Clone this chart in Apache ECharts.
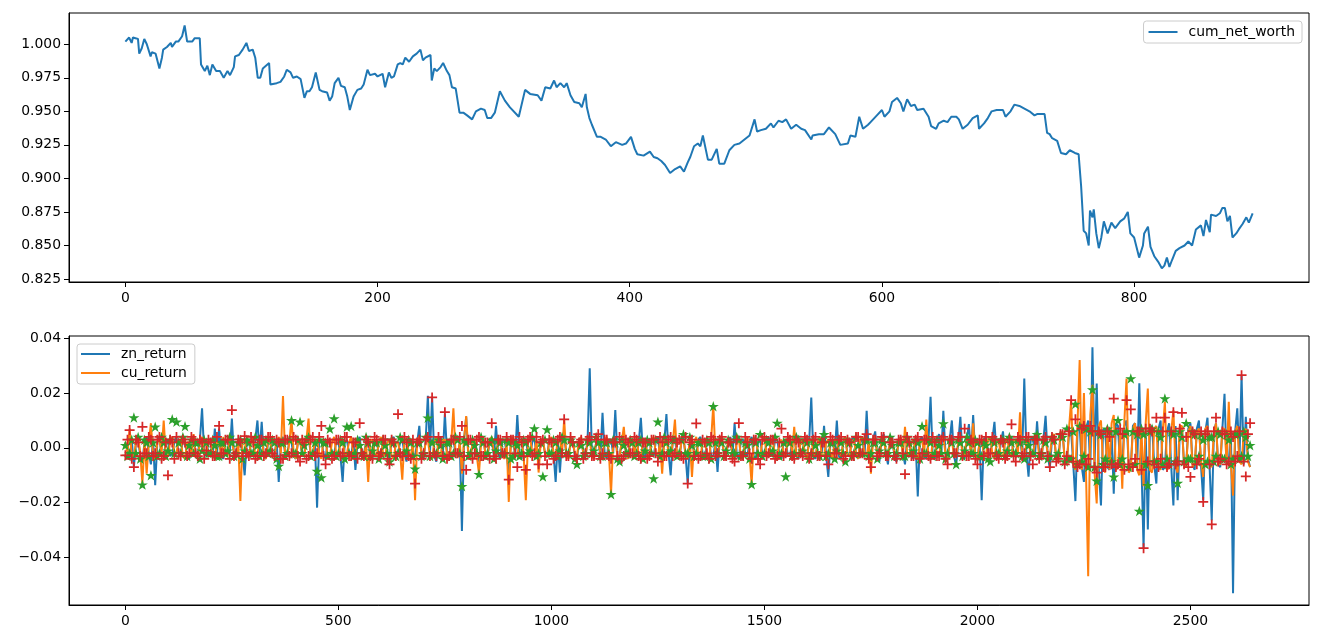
<!DOCTYPE html>
<html>
<head>
<meta charset="utf-8">
<script src="https://cdn.jsdelivr.net/npm/echarts@6/dist/echarts.min.js"></script>
<style>
  html, body { margin: 0; padding: 0; background: #fff; }
  #chart { width: 1321px; height: 634px; }
</style>
</head>
<body>
<div id="chart"></div>
<script>
// top panel: cumulative net worth, [index, value]
var cumNetWorth = [
  [0,1.002],[1,1.001],[3,1.005],[4,1.003],[5,1.001],[6,1.005],[8,1.0045],[10,1.004],[11,0.993],[13,0.997],
  [15,1.004],[17,1.000],[20,0.991],[21,0.994],[24,0.993],[27,0.982],[29,0.990],[30,0.996],[33,0.998],[36,1.001],
  [37,0.998],[40,1.002],[42,1.002],[45,1.006],[46,1.007],[47,1.014],[48,1.008],[49,1.002],[53,1.002],[55,1.0045],
  [59,1.0045],[60,0.985],[63,0.980],[65,0.984],[67,0.977],[69,0.985],[72,0.980],[75,0.980],[78,0.975],[81,0.980],
  [83,0.977],[86,0.983],[87,0.991],[90,0.992],[93,0.996],[96,1.001],[98,0.995],[101,0.996],[103,0.990],[105,0.975],
  [107,0.975],[109,0.982],[114,0.986],[115,0.970],[120,0.971],[123,0.972],[126,0.976],[128,0.981],[131,0.979],[133,0.975],
  [136,0.976],[139,0.974],[140,0.973],[142,0.960],[144,0.965],[146,0.965],[148,0.968],[151,0.979],[154,0.966],[156,0.965],
  [160,0.964],[162,0.958],[164,0.961],[166,0.971],[169,0.975],[171,0.969],[174,0.968],[176,0.961],[178,0.951],[181,0.961],
  [184,0.966],[187,0.967],[189,0.970],[192,0.981],[194,0.977],[198,0.978],[200,0.976],[204,0.978],[206,0.968],[209,0.979],
  [211,0.975],[213,0.976],[216,0.985],[218,0.986],[220,0.985],[222,0.990],[225,0.987],[228,0.991],[231,0.993],[234,0.996],
  [236,0.988],[238,0.990],[242,0.992],[243,0.973],[245,0.982],[247,0.980],[250,0.983],[252,0.986],[255,0.980],[257,0.977],
  [259,0.968],[262,0.967],[265,0.949],[268,0.949],[271,0.947],[275,0.944],[278,0.950],[282,0.952],[285,0.951],[287,0.945],
  [290,0.945],[293,0.949],[297,0.965],[301,0.958],[305,0.953],[312,0.946],[317,0.966],[321,0.963],[327,0.962],[330,0.958],
  [333,0.968],[337,0.967],[340,0.973],[342,0.968],[345,0.971],[348,0.968],[350,0.971],[353,0.962],[356,0.957],[360,0.956],
  [362,0.953],[365,0.963],[366,0.953],[368,0.945],[370,0.940],[374,0.931],[377,0.931],[381,0.929],[385,0.924],[389,0.927],
  [394,0.925],[397,0.926],[401,0.931],[404,0.922],[406,0.918],[411,0.917],[416,0.920],[419,0.916],[422,0.915],[425,0.913],
  [428,0.910],[432,0.904],[436,0.907],[440,0.909],[443,0.905],[446,0.912],[448,0.916],[451,0.924],[454,0.926],[456,0.924],
  [458,0.932],[462,0.914],[465,0.914],[469,0.922],[471,0.911],[475,0.911],[479,0.921],[483,0.925],[487,0.926],[491,0.929],
  [495,0.932],[499,0.944],[501,0.935],[504,0.936],[508,0.937],[512,0.941],[514,0.938],[518,0.943],[521,0.942],[524,0.944],
  [528,0.937],[532,0.940],[536,0.937],[539,0.936],[544,0.929],[545,0.932],[550,0.933],[554,0.933],[558,0.938],[563,0.933],
  [567,0.925],[573,0.926],[575,0.932],[579,0.931],[582,0.946],[585,0.937],[589,0.940],[591,0.942],[596,0.947],[600,0.951],
  [602,0.946],[606,0.950],[608,0.957],[612,0.960],[615,0.956],[617,0.950],[620,0.959],[623,0.954],[626,0.955],[628,0.951],
  [633,0.952],[637,0.946],[639,0.939],[643,0.937],[645,0.941],[649,0.943],[652,0.942],[655,0.946],[659,0.946],[661,0.944],
  [664,0.937],[668,0.940],[672,0.945],[676,0.947],[677,0.937],[681,0.941],[684,0.945],[687,0.950],[691,0.951],[696,0.951],
  [698,0.946],[702,0.950],[705,0.955],[709,0.954],[713,0.952],[717,0.950],[721,0.947],[723,0.948],[729,0.948],[731,0.934],
  [733,0.933],[735,0.930],[739,0.928],[742,0.919],[746,0.918],[749,0.921],[753,0.919],[756,0.918],[758,0.894],[760,0.861],
  [762,0.859],[764,0.850],[765,0.876],[767,0.871],[768,0.877],[770,0.859],[772,0.848],[774,0.856],[776,0.868],[779,0.859],
  [782,0.867],[785,0.863],[789,0.868],[792,0.870],[795,0.875],[797,0.859],[800,0.856],[804,0.841],[807,0.850],[808,0.859],
  [811,0.864],[813,0.849],[816,0.842],[819,0.838],[822,0.833],[824,0.835],[826,0.841],[828,0.834],[830,0.839],[833,0.846],
  [836,0.848],[840,0.850],[843,0.853],[846,0.850],[849,0.862],[853,0.865],[855,0.857],[857,0.869],[860,0.860],[861,0.873],
  [865,0.872],[868,0.874],[870,0.878],[872,0.878],[874,0.868],[876,0.872],[878,0.856],[881,0.859],[883,0.862],[886,0.866],
  [889,0.871],[891,0.867],[894,0.874]
];

// bottom panel: one value every STEP rows, starting at row 0
var STEP = 5;
var znReturn = [
  0.002,-0.001,-0.004,0.003,-0.007,0.002,0.003,-0.003,-0.005,0.002,0.004,-0.002,-0.006,0.003,-0.0136,0.002,0.004,-0.003,-0.003,0.002,
  0.003,-0.003,-0.002,0.002,0.004,-0.002,-0.003,0.003,0.002,-0.003,-0.004,0.002,0.003,-0.002,-0.002,0.003,0.0144,-0.002,-0.003,0.002,
  0.002,-0.003,0.007,-0.002,0.007,-0.003,-0.004,0.002,0.003,-0.002,0.0107,-0.003,-0.003,0.003,0.002,-0.002,-0.010,0.002,0.003,-0.003,
  -0.002,0.003,0.010,-0.002,0.0095,-0.003,-0.004,0.002,0.003,-0.002,-0.003,0.003,-0.0124,0.002,0.004,-0.002,-0.003,0.003,0.002,-0.003,
  -0.004,0.002,0.003,-0.003,-0.002,0.003,0.004,-0.002,-0.003,0.002,-0.0218,0.003,0.003,-0.002,-0.004,0.003,0.003,-0.003,-0.002,0.002,
  0.002,-0.003,-0.0124,0.002,0.003,-0.002,-0.003,0.003,-0.008,0.002,0.004,-0.003,-0.002,0.002,0.003,-0.003,-0.004,0.002,0.002,-0.002,
  -0.003,0.002,0.003,-0.002,-0.004,0.003,0.004,-0.003,-0.002,0.002,0.003,-0.002,-0.005,0.003,0.003,-0.002,-0.003,0.002,0.008,-0.003,
  -0.004,0.003,0.019,-0.002,0.0186,-0.003,-0.005,0.002,0.004,-0.003,0.0125,-0.002,-0.004,0.003,0.003,-0.002,-0.003,0.002,-0.0303,0.003,
  0.0113,-0.003,-0.004,0.002,0.003,-0.002,-0.005,0.003,0.004,-0.002,-0.003,0.002,0.003,-0.003,0.008,-0.002,-0.004,0.003,0.003,-0.002,
  -0.0094,0.002,0.003,-0.003,0.012,-0.002,-0.004,0.003,0.003,-0.002,-0.003,0.002,0.004,-0.003,-0.004,0.002,0.003,-0.002,-0.003,0.003,
  0.003,-0.002,-0.0124,0.002,-0.009,0.003,0.004,-0.002,-0.003,0.002,0.003,-0.003,-0.004,0.002,0.003,-0.002,-0.003,0.003,0.029,-0.002,
  -0.004,0.002,0.003,-0.003,0.0128,-0.002,-0.004,0.003,0.003,-0.002,0.0138,-0.003,-0.003,0.002,0.004,-0.002,-0.004,0.003,0.003,-0.002,
  -0.003,0.002,0.011,-0.002,-0.004,0.003,0.003,-0.002,-0.003,0.002,0.004,-0.003,-0.004,0.002,0.0123,-0.002,-0.010,0.003,0.003,-0.002,
  -0.004,0.002,0.004,-0.003,-0.013,0.002,0.003,-0.002,-0.003,0.003,0.004,-0.002,-0.004,0.002,0.003,-0.003,-0.003,0.002,-0.0088,0.003,
  0.003,-0.002,-0.003,0.002,0.004,-0.003,0.009,-0.002,-0.004,0.003,0.003,-0.002,-0.003,0.002,0.004,-0.003,-0.004,0.002,0.003,-0.002,
  -0.003,0.002,0.004,-0.002,-0.003,0.003,0.003,-0.002,-0.004,0.002,0.003,-0.003,-0.003,0.002,0.005,-0.002,-0.004,0.003,0.003,-0.002,
  -0.003,0.002,0.0184,-0.003,-0.004,0.002,0.003,-0.002,0.008,-0.003,-0.0106,0.002,0.003,-0.002,0.010,-0.003,-0.004,0.002,0.003,-0.002,
  -0.003,0.003,0.004,-0.002,-0.004,0.002,0.003,-0.003,0.0135,-0.002,-0.004,0.003,0.006,-0.003,-0.005,0.003,0.005,-0.002,-0.006,0.003,
  0.004,-0.003,-0.005,0.003,0.004,-0.002,-0.006,0.003,0.003,-0.003,-0.004,0.002,-0.0177,0.003,0.004,-0.003,-0.004,0.002,0.0186,-0.003,
  -0.004,0.003,0.005,-0.003,0.0135,-0.002,-0.004,0.003,0.010,-0.003,-0.0065,0.002,0.0113,-0.003,-0.004,0.003,0.0087,-0.002,0.012,-0.003,
  -0.004,0.002,-0.0191,0.003,0.004,-0.002,-0.003,0.003,0.0095,-0.003,-0.004,0.002,0.006,-0.003,-0.003,0.002,0.004,-0.003,-0.003,0.003,
  0.004,-0.003,0.0253,-0.002,-0.0105,0.003,0.004,-0.003,0.0097,-0.002,-0.004,0.003,0.0117,-0.003,-0.0075,0.003,0.004,-0.004,-0.004,0.004,
  0.005,-0.004,-0.005,0.005,0.006,-0.006,-0.0194,0.006,0.008,-0.007,-0.0124,0.007,0.010,-0.008,0.0367,-0.006,0.0235,-0.008,-0.021,0.007,
  0.006,-0.007,-0.008,0.006,-0.0167,0.009,0.008,-0.007,-0.006,0.008,0.010,-0.006,-0.007,0.008,0.009,-0.007,0.0236,-0.006,-0.0366,0.006,
  -0.0298,0.007,0.008,-0.006,-0.013,0.007,0.010,-0.008,-0.007,0.006,0.009,-0.007,-0.021,0.008,-0.0191,0.006,0.008,-0.006,-0.006,0.007,
  0.009,-0.006,-0.008,0.007,0.010,-0.007,-0.0191,0.006,0.011,-0.007,-0.0264,0.006,0.009,-0.006,-0.007,0.007,0.0197,-0.006,-0.005,0.006,
  -0.053,0.006,0.0144,-0.005,0.0265,-0.006,0.0113,-0.004,-0.007
];
var cuReturn = [
  0.002,-0.002,0.007,-0.003,-0.003,0.002,0.004,-0.002,-0.013,0.003,-0.0094,0.002,0.009,-0.003,-0.004,0.002,0.003,-0.002,0.010,-0.003,
  -0.003,0.002,0.004,-0.002,-0.002,0.003,0.003,-0.003,-0.004,0.002,0.002,-0.002,0.005,-0.003,-0.003,0.002,0.004,-0.002,-0.002,0.003,
  0.003,-0.002,-0.004,0.002,0.002,-0.003,0.004,-0.002,-0.003,0.003,0.003,-0.002,-0.002,0.002,-0.0194,0.003,0.003,-0.002,-0.003,0.002,
  0.004,-0.003,-0.002,0.002,0.003,-0.002,-0.004,0.003,0.002,-0.003,-0.003,0.002,0.004,-0.002,0.0189,-0.003,-0.003,0.002,0.0107,-0.002,
  -0.004,0.002,0.003,-0.002,-0.003,0.003,0.0107,-0.003,-0.002,0.002,0.003,-0.002,-0.004,0.003,0.003,-0.003,-0.003,0.002,0.004,-0.002,
  -0.003,0.002,0.003,-0.003,-0.002,0.002,0.004,-0.002,-0.003,0.003,0.002,-0.002,-0.004,0.002,-0.0124,0.003,0.003,-0.002,-0.003,0.002,
  0.004,-0.002,-0.003,0.002,0.003,-0.003,-0.004,0.002,0.002,-0.002,-0.0116,0.003,0.003,-0.002,-0.003,0.002,-0.0191,0.003,0.004,-0.002,
  -0.003,0.002,0.003,-0.003,-0.004,0.002,0.004,-0.002,-0.003,0.003,0.003,-0.002,-0.004,0.002,0.0144,-0.002,-0.003,0.002,-0.0094,0.003,
  0.0116,-0.002,-0.004,0.002,0.003,-0.003,-0.0094,0.002,0.004,-0.002,-0.003,0.003,0.004,-0.002,-0.003,0.002,0.003,-0.003,-0.004,0.002,
  -0.0197,0.003,0.004,-0.002,-0.003,0.002,0.003,-0.003,-0.0191,0.002,0.004,-0.002,-0.003,0.003,-0.009,0.002,0.003,-0.002,-0.003,0.002,
  0.004,-0.002,-0.003,0.003,0.003,-0.002,0.0104,-0.003,-0.004,0.002,0.003,-0.002,-0.003,0.003,0.004,-0.002,-0.003,0.002,0.003,-0.003,
  -0.004,0.002,0.003,-0.002,-0.003,0.003,0.004,-0.002,-0.0167,0.002,0.003,-0.003,-0.003,0.002,0.0077,-0.002,-0.004,0.003,0.003,-0.002,
  0.004,-0.003,-0.003,0.002,0.003,-0.002,-0.004,0.003,0.004,-0.002,-0.003,0.002,-0.0094,0.003,0.004,-0.002,-0.003,0.002,0.0103,-0.003,
  -0.004,0.002,0.003,-0.002,-0.004,0.003,-0.0106,0.002,0.004,-0.003,-0.003,0.002,0.003,-0.002,-0.004,0.003,0.0156,-0.002,-0.003,0.002,
  0.004,-0.002,-0.003,0.003,0.003,-0.002,-0.004,0.002,0.003,-0.003,-0.003,0.002,0.004,-0.002,-0.0133,0.003,0.003,-0.002,-0.003,0.002,
  0.004,-0.002,-0.003,0.002,0.003,-0.003,-0.004,0.002,0.003,-0.002,-0.003,0.003,0.004,-0.002,0.0077,-0.003,-0.003,0.002,0.003,-0.002,
  -0.004,0.003,0.003,-0.002,-0.003,0.002,0.004,-0.003,-0.003,0.002,0.003,-0.002,-0.004,0.003,0.003,-0.002,-0.003,0.002,0.004,-0.003,
  -0.003,0.002,0.003,-0.002,-0.004,0.003,0.004,-0.002,-0.003,0.002,-0.0094,0.003,0.004,-0.003,-0.003,0.002,0.004,-0.002,-0.004,0.003,
  0.003,-0.002,-0.003,0.002,0.004,-0.003,0.0077,-0.002,-0.003,0.002,0.003,-0.003,-0.004,0.002,0.003,-0.002,0.0103,-0.003,-0.004,0.002,
  0.003,-0.002,-0.003,0.003,0.004,-0.002,-0.004,0.002,0.003,-0.003,-0.003,0.002,0.004,-0.002,-0.003,0.003,0.003,-0.002,0.009,-0.003,
  -0.004,0.002,0.003,-0.002,-0.003,0.003,0.004,-0.002,-0.004,0.002,0.003,-0.003,-0.003,0.002,0.004,-0.002,-0.003,0.003,0.003,-0.002,
  0.013,-0.003,-0.004,0.002,0.003,-0.003,-0.003,0.002,0.004,-0.003,-0.004,0.003,0.003,-0.002,-0.003,0.004,0.005,-0.004,-0.005,0.005,
  0.006,-0.005,-0.006,0.007,0.0174,-0.006,-0.008,0.009,0.032,-0.008,0.020,-0.010,-0.0468,0.012,0.023,-0.009,-0.0203,0.008,0.010,-0.007,
  -0.009,0.007,-0.008,0.009,0.012,-0.008,-0.007,0.006,-0.0149,0.010,0.0253,-0.009,-0.008,0.007,0.009,-0.008,-0.010,0.007,-0.014,0.009,
  0.0216,-0.008,-0.009,0.007,0.008,-0.007,-0.008,0.006,0.0168,-0.008,-0.007,0.006,0.0138,-0.007,-0.009,0.008,0.008,-0.006,-0.007,0.006,
  0.008,-0.007,-0.006,0.006,0.007,-0.005,-0.0106,0.007,0.008,-0.006,-0.007,0.005,0.009,-0.006,-0.006,0.007,0.007,-0.005,0.0168,-0.006,
  -0.0174,0.006,0.008,-0.005,-0.006,0.005,0.007,-0.005,-0.007
];
var starReturn = [
  0.001,-0.003,-0.002,0.003,0.0111,-0.002,0.004,-0.004,-0.0134,0.003,0.002,-0.003,-0.010,0.002,0.0077,-0.003,-0.002,0.004,0.002,-0.003,
  -0.001,0.003,0.0104,-0.002,0.0095,0.002,-0.002,0.004,0.0079,-0.003,0.001,0.003,-0.002,0.002,0.002,-0.004,-0.001,0.003,0.002,-0.002,
  -0.002,0.003,0.001,-0.003,-0.003,0.002,0.002,-0.002,-0.001,0.004,0.002,-0.003,-0.002,0.002,0.003,-0.004,-0.001,0.003,0.002,-0.002,
  -0.002,0.004,0.001,-0.003,-0.002,0.002,0.003,-0.002,-0.001,0.003,0.002,-0.004,-0.0066,0.002,0.002,-0.003,-0.002,0.003,0.0101,-0.002,
  -0.002,0.003,0.0095,-0.002,0.001,0.003,0.004,-0.003,-0.002,0.002,-0.0084,0.003,-0.0108,0.002,0.002,-0.003,0.007,-0.002,0.0107,-0.003,
  -0.002,0.003,0.002,-0.004,0.0077,-0.002,0.008,-0.003,-0.002,0.003,0.001,-0.002,-0.003,0.004,0.002,-0.003,-0.001,0.002,0.002,-0.004,
  -0.002,0.003,0.001,-0.002,-0.005,0.003,0.002,-0.003,-0.002,0.004,0.003,-0.002,-0.001,0.003,0.002,-0.003,-0.0076,0.002,0.002,-0.003,
  -0.002,0.004,0.011,-0.003,0.002,-0.002,-0.002,0.003,0.001,-0.004,-0.003,0.002,0.002,-0.003,-0.002,0.004,0.003,-0.002,-0.014,0.003,
  0.002,-0.003,-0.002,0.003,0.001,-0.002,-0.0096,0.004,0.002,-0.003,-0.002,0.002,0.003,-0.004,-0.001,0.003,0.002,-0.002,-0.002,0.003,
  0.002,-0.004,-0.003,0.002,0.001,-0.003,-0.002,0.003,0.002,-0.002,-0.001,0.004,0.0071,-0.003,-0.002,0.002,-0.0104,0.003,0.0067,-0.002,
  -0.002,0.003,0.002,-0.003,-0.001,0.004,0.003,-0.002,-0.002,0.003,0.002,-0.004,-0.006,0.002,0.001,-0.003,-0.002,0.003,0.002,-0.002,
  -0.001,0.004,0.002,-0.003,-0.003,0.002,0.002,-0.002,-0.0169,0.003,0.002,-0.004,-0.005,0.003,0.001,-0.002,-0.002,0.003,0.002,-0.003,
  -0.002,0.002,0.003,-0.004,-0.001,0.003,0.002,-0.002,-0.0112,0.003,0.0095,-0.003,-0.002,0.004,0.002,-0.002,-0.001,0.003,0.003,-0.003,
  -0.002,0.003,0.005,-0.002,-0.002,0.004,0.001,-0.003,-0.002,0.002,0.002,-0.003,-0.003,0.003,0.002,-0.004,0.0152,0.002,-0.002,0.003,
  0.002,-0.003,-0.001,0.003,0.002,-0.002,-0.002,0.004,0.003,-0.003,-0.002,0.002,0.001,-0.004,-0.0133,0.003,0.002,-0.002,0.005,-0.003,
  -0.002,0.003,0.002,-0.002,-0.001,0.004,0.0091,-0.003,-0.002,0.002,-0.0104,0.003,0.002,-0.003,-0.002,0.004,0.003,-0.002,-0.001,0.003,
  0.002,-0.004,-0.002,0.003,0.001,-0.002,-0.003,0.003,0.005,-0.003,-0.002,0.002,0.002,-0.004,-0.001,0.003,0.002,-0.002,-0.005,0.003,
  0.002,-0.003,-0.002,0.004,0.001,-0.002,-0.002,0.003,0.003,-0.003,-0.002,0.002,0.002,-0.004,-0.001,0.003,0.002,-0.002,-0.002,0.004,
  0.001,-0.003,-0.002,0.002,0.002,-0.003,-0.003,0.004,0.002,-0.002,-0.001,0.003,0.002,-0.004,0.0079,-0.002,-0.002,0.003,0.002,-0.003,
  -0.002,0.003,0.001,-0.002,0.0089,-0.004,-0.002,0.003,0.002,-0.002,-0.006,0.003,0.002,-0.003,-0.001,0.004,0.002,-0.002,-0.002,0.003,
  0.002,-0.003,-0.003,0.002,0.001,-0.004,-0.005,0.003,0.002,-0.002,-0.002,0.003,0.003,-0.003,-0.001,0.004,0.002,-0.002,-0.002,0.003,
  0.002,-0.003,-0.004,0.003,0.001,-0.002,-0.002,0.004,0.005,-0.003,-0.002,0.003,0.002,-0.004,-0.003,0.004,0.003,-0.003,-0.002,0.005,
  0.004,-0.005,0.007,-0.004,-0.004,0.006,0.016,-0.006,0.008,-0.005,-0.003,0.007,-0.007,0.006,0.0213,-0.007,-0.012,0.006,0.005,-0.006,
  -0.004,0.007,0.006,-0.005,-0.0105,0.006,0.0101,-0.006,-0.004,0.005,0.006,-0.007,0.0253,0.006,-0.006,0.005,-0.023,0.007,0.005,-0.006,
  -0.0136,0.006,0.007,-0.005,-0.005,0.006,0.004,-0.006,0.018,-0.004,-0.006,0.006,0.005,-0.005,-0.0128,0.006,0.004,-0.005,0.009,-0.004,
  -0.004,0.006,0.005,-0.005,-0.003,0.005,0.003,-0.006,-0.005,0.004,0.004,-0.005,-0.003,0.006,0.005,-0.004,-0.004,0.005,0.003,-0.006,
  -0.004,0.005,0.005,-0.004,-0.003,0.006,0.004,-0.003,0.001
];
var plusReturn = [
  -0.0027,0.003,0.0065,-0.004,-0.007,0.003,0.002,-0.003,0.0077,-0.002,-0.002,0.004,0.003,-0.003,-0.002,0.003,0.004,-0.004,-0.003,0.002,
  -0.010,0.003,0.002,-0.004,0.004,-0.002,-0.003,0.003,0.002,-0.003,-0.002,0.004,0.003,-0.002,-0.003,0.003,0.002,-0.004,-0.001,0.003,
  0.002,-0.003,-0.003,0.004,0.008,-0.002,-0.002,0.003,0.003,-0.004,0.0138,-0.003,-0.002,0.003,0.002,-0.003,0.0043,-0.002,-0.003,0.004,
  0.002,-0.004,-0.003,0.003,0.003,-0.003,-0.002,0.004,0.004,-0.002,-0.003,0.003,0.002,-0.004,-0.004,0.003,0.003,-0.003,-0.002,0.004,
  0.003,-0.003,-0.005,0.003,0.002,-0.004,-0.003,0.003,0.004,-0.003,-0.002,0.004,0.008,-0.003,-0.006,0.003,0.002,-0.004,-0.003,0.003,
  0.003,-0.003,-0.002,0.004,0.004,-0.003,-0.003,0.002,0.002,-0.004,0.009,-0.002,-0.003,0.003,0.002,-0.003,-0.004,0.004,0.003,-0.003,
  -0.002,0.003,0.003,-0.004,-0.006,0.003,0.002,-0.003,0.0123,-0.002,-0.003,0.004,0.002,-0.003,-0.004,0.003,-0.013,0.002,0.003,-0.004,
  -0.002,0.003,0.004,-0.003,0.0184,-0.002,-0.003,0.004,0.002,-0.003,0.013,-0.004,-0.003,0.003,0.003,-0.002,-0.002,0.004,0.008,-0.003,
  -0.008,0.003,0.003,-0.004,-0.002,0.003,0.004,-0.003,-0.003,0.002,0.002,-0.004,0.009,-0.003,-0.004,0.003,0.003,-0.002,-0.002,0.004,
  -0.0116,0.003,0.003,-0.002,-0.007,0.004,0.002,-0.003,-0.008,0.003,0.004,-0.003,-0.002,0.004,-0.006,0.002,0.003,-0.003,-0.006,0.003,
  0.002,-0.004,-0.003,0.003,0.004,-0.002,0.0104,-0.003,-0.003,0.004,0.002,-0.003,-0.004,0.002,0.003,-0.004,-0.002,0.003,0.004,-0.003,
  -0.003,0.003,0.005,-0.004,-0.002,0.003,0.003,-0.003,-0.004,0.002,0.002,-0.003,0.004,-0.004,-0.003,0.003,0.002,-0.002,-0.002,0.004,
  0.003,-0.003,-0.004,0.002,0.002,-0.004,-0.003,0.003,0.003,-0.002,-0.005,0.004,0.002,-0.003,-0.003,0.003,0.004,-0.003,-0.002,0.002,
  0.003,-0.003,-0.004,0.004,-0.013,0.002,0.003,-0.003,0.0089,-0.004,-0.003,0.003,0.002,-0.002,-0.004,0.004,0.003,-0.003,-0.002,0.003,
  0.004,-0.003,-0.003,0.002,0.002,-0.004,-0.005,0.003,0.009,-0.003,-0.003,0.004,0.002,-0.002,-0.004,0.003,0.003,-0.004,-0.006,0.003,
  0.004,-0.003,-0.002,0.003,0.003,-0.004,-0.003,0.002,0.007,-0.003,-0.002,0.004,0.003,-0.003,-0.004,0.003,0.002,-0.002,-0.003,0.004,
  0.003,-0.004,-0.002,0.003,0.004,-0.003,-0.003,0.002,0.002,-0.003,-0.006,0.004,0.003,-0.002,-0.002,0.003,0.004,-0.004,-0.003,0.003,
  0.002,-0.003,-0.003,0.004,0.004,-0.002,-0.002,0.003,0.005,-0.004,-0.007,0.003,0.003,-0.003,-0.002,0.004,0.004,-0.003,-0.003,0.002,
  0.002,-0.003,-0.004,0.003,0.003,-0.002,-0.0096,0.004,0.002,-0.003,-0.003,0.003,0.004,-0.004,-0.002,0.003,0.003,-0.003,-0.004,0.004,
  0.002,-0.003,-0.003,0.003,0.004,-0.004,-0.006,0.003,0.003,-0.002,-0.002,0.004,0.004,-0.003,0.007,-0.003,-0.003,0.003,0.002,-0.004,
  -0.006,0.003,0.003,-0.003,0.004,-0.002,-0.002,0.004,0.003,-0.003,-0.004,0.003,0.002,-0.004,-0.003,0.003,0.0086,-0.003,-0.005,0.004,
  0.003,-0.003,-0.002,0.004,0.004,-0.003,-0.006,0.003,0.003,-0.004,-0.002,0.003,0.004,-0.003,-0.007,0.004,0.003,-0.005,-0.004,0.005,
  0.005,-0.006,-0.003,0.006,0.0174,-0.005,0.0104,-0.007,-0.006,0.007,0.008,-0.006,-0.004,0.008,0.006,-0.007,-0.009,0.006,0.005,-0.007,
  -0.007,0.006,0.004,-0.006,0.018,-0.007,-0.006,0.007,0.005,-0.008,0.0174,-0.006,0.014,-0.007,-0.004,0.006,0.006,-0.008,-0.0366,0.007,
  -0.005,0.007,0.006,-0.006,0.011,-0.007,-0.004,0.006,0.011,-0.007,-0.006,0.006,0.013,-0.006,-0.005,0.007,0.0128,-0.006,0.004,-0.007,
  -0.0106,0.006,0.005,-0.006,-0.004,0.006,-0.0197,0.005,0.006,-0.006,-0.0279,0.006,0.011,-0.005,-0.004,0.006,0.005,-0.006,-0.005,0.006,
  0.004,-0.005,-0.003,0.006,0.0265,-0.005,-0.0104,0.005,0.009
];

var topXTicks = [0, 200, 400, 600, 800];
var topYTicks = [0.825, 0.85, 0.875, 0.9, 0.925, 0.95, 0.975, 1.0];
var botXTicks = [0, 500, 1000, 1500, 2000, 2500];
var botYTicks = [-0.04, -0.02, 0, 0.02, 0.04];

function stepPairs(vals) {
  return vals.map(function (v, i) { return [i * STEP, v]; });
}

var FONT = 'DejaVu Sans';
var STAR = 'path://M0,-10L2.245,-3.09L9.511,-3.09L3.633,1.18L5.878,8.09L0,3.82L-5.878,8.09L-3.633,1.18L-9.511,-3.09L-2.245,-3.09Z';
var PLUS = 'path://M-1.4,-8H1.4V-1.4H8V1.4H1.4V8H-1.4V1.4H-8V-1.4H-1.4Z';

function xAxisOf(idx, min, max, ticks) {
  return {
    type: 'value', gridIndex: idx, min: min, max: max,
    axisLine: { show: true, onZero: false, lineStyle: { color: '#000', width: 1 } },
    axisTick: { show: true, inside: false, length: 5, customValues: ticks, lineStyle: { color: '#000', width: 1 } },
    axisLabel: {
      customValues: ticks, margin: 9, color: '#000', fontFamily: FONT, fontSize: 13.9,
      formatter: function (v) { return String(v); }
    },
    splitLine: { show: false }
  };
}
function yAxisOf(idx, min, max, ticks, fmt) {
  return {
    type: 'value', gridIndex: idx, min: min, max: max,
    axisLine: { show: true, onZero: false, lineStyle: { color: '#000', width: 1 } },
    axisTick: { show: true, inside: false, length: 5, customValues: ticks, lineStyle: { color: '#000', width: 1 } },
    axisLabel: { customValues: ticks, margin: 8, color: '#000', fontFamily: FONT, fontSize: 13.9, formatter: fmt },
    splitLine: { show: false }
  };
}

var legendBase = {
  icon: 'rect', itemWidth: 29, itemHeight: 2,
  backgroundColor: 'rgba(255,255,255,0.8)', borderColor: '#cccccc', borderWidth: 1, borderRadius: 3,
  textStyle: { color: '#000', fontFamily: FONT, fontSize: 13.9, padding: [0, 0, 0, 6] }
};

var myChart = echarts.init(document.getElementById('chart'));
var option = {
  animation: false,
  backgroundColor: '#fff',
  grid: [
    { left: 69, right: 12, top: 13, height: 269, show: true, borderColor: '#000', borderWidth: 1 },
    { left: 69, right: 12, top: 336, height: 269, show: true, borderColor: '#000', borderWidth: 1 }
  ],
  xAxis: [
    xAxisOf(0, -44.7, 938.7, topXTicks),
    xAxisOf(1, -132.3, 2778.3, botXTicks)
  ],
  yAxis: [
    yAxisOf(0, 0.8228, 1.0233, topYTicks, function (v) { return v.toFixed(3); }),
    yAxisOf(1, -0.0573, 0.0408, botYTicks, function (v) {
      return v < 0 ? '\u2212' + Math.abs(v).toFixed(2) : v.toFixed(2);
    })
  ],
  legend: [
    Object.assign({}, legendBase, { data: ['cum_net_worth'], right: 19, top: 21, padding: [4, 7, 4, 5], z: 10 }),
    Object.assign({}, legendBase, { data: ['zn_return', 'cu_return'], orient: 'vertical', left: 77, top: 344, itemGap: 5, padding: [3, 8, 4, 4], z: 10 })
  ],
  series: [
    {
      name: 'cum_net_worth', type: 'line', xAxisIndex: 0, yAxisIndex: 0,
      data: cumNetWorth, showSymbol: false, symbol: 'none',
      itemStyle: { color: '#1f77b4' }, lineStyle: { color: '#1f77b4', width: 2 }
    },
    {
      name: 'zn_return', type: 'line', xAxisIndex: 1, yAxisIndex: 1, z: 2,
      data: stepPairs(znReturn), showSymbol: false, symbol: 'none',
      itemStyle: { color: '#1f77b4' }, lineStyle: { color: '#1f77b4', width: 2 }
    },
    {
      name: 'cu_return', type: 'line', xAxisIndex: 1, yAxisIndex: 1, z: 3,
      data: stepPairs(cuReturn), showSymbol: false, symbol: 'none',
      itemStyle: { color: '#ff7f0e' }, lineStyle: { color: '#ff7f0e', width: 2 }
    },
    {
      name: 'star_mark', type: 'scatter', xAxisIndex: 1, yAxisIndex: 1, z: 4,
      data: stepPairs(starReturn), symbol: STAR, symbolSize: [11, 10.5],
      itemStyle: { color: '#2ca02c', opacity: 1 }
    },
    {
      name: 'plus_mark', type: 'scatter', xAxisIndex: 1, yAxisIndex: 1, z: 5,
      data: stepPairs(plusReturn), symbol: PLUS, symbolSize: 10,
      itemStyle: { color: '#d62728', opacity: 1 }
    }
  ]
};
myChart.setOption(option);
</script>
</body>
</html>
